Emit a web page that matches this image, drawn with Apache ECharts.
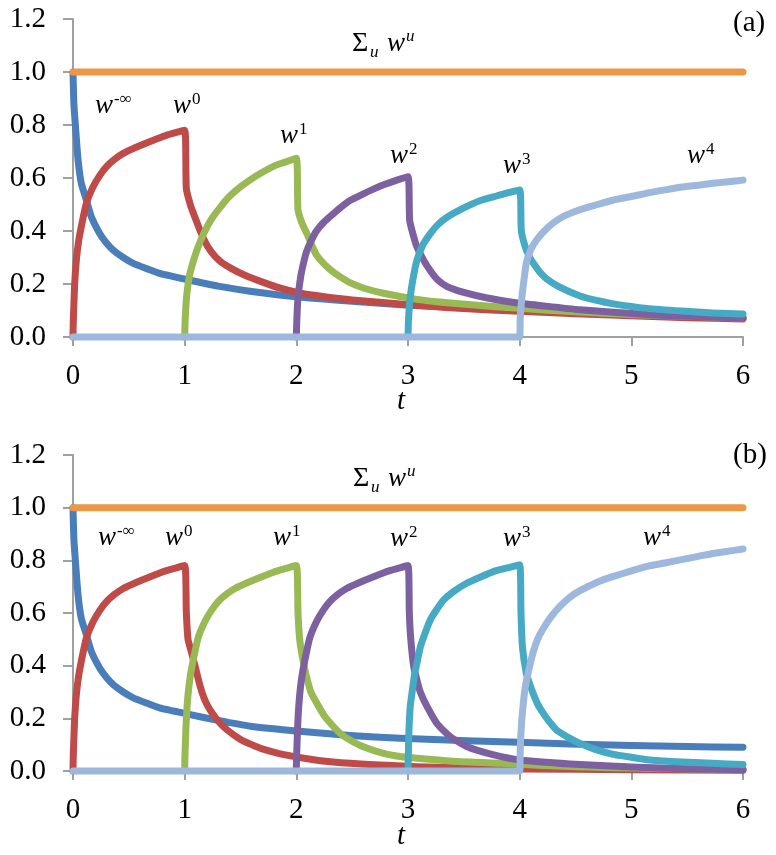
<!DOCTYPE html>
<html>
<head>
<meta charset="utf-8">
<script src="https://cdn.jsdelivr.net/npm/echarts@6/dist/echarts.min.js"></script>
<style>
html,body{margin:0;padding:0;background:#fff;}
#chart{width:776px;height:855px;}
</style>
</head>
<body>
<div id="chart"></div>
<script>
// ---------- DATA ----------
const xTickLabels = ['0','1','2','3','4','5','6'];
const yTickLabels = ['0.0','0.2','0.4','0.6','0.8','1.0','1.2'];

// Panel (a)
const a_wInf = [[0,1.0],[0.008,0.88],[0.023,0.79],[0.045,0.67],[0.074,0.58],[0.12,0.517],[0.164,0.454],[0.24,0.39],[0.3,0.355],[0.36,0.328],[0.45,0.3],[0.54,0.278],[0.66,0.258],[0.775,0.24],[0.9,0.228],[1.04,0.215],[1.3,0.192],[1.6,0.172],[2.0,0.152],[2.5,0.135],[3.0,0.12],[3.5,0.11],[4.0,0.1],[4.5,0.092],[5.0,0.085],[5.5,0.078],[6.0,0.072]];
const a_w0 = [[0,0],[0.002,0.05],[0.006,0.1],[0.015,0.2],[0.03,0.29],[0.05,0.36],[0.074,0.416],[0.12,0.505],[0.18,0.567],[0.24,0.61],[0.3,0.643],[0.37,0.67],[0.45,0.693],[0.56,0.715],[0.686,0.737],[0.83,0.76],[1.0,0.78],[1.015,0.56],[1.05,0.5],[1.09,0.454],[1.17,0.37],[1.24,0.32],[1.32,0.285],[1.42,0.258],[1.53,0.235],[1.68,0.21],[1.85,0.185],[2.04,0.165],[2.25,0.152],[2.5,0.14],[2.93,0.125],[3.38,0.11],[4.0,0.097],[4.5,0.088],[5.0,0.08],[5.5,0.073],[6.0,0.068]];
const a_w1 = [[1,0],[1.005,0.07],[1.02,0.165],[1.045,0.235],[1.08,0.29],[1.12,0.34],[1.17,0.39],[1.24,0.445],[1.32,0.49],[1.4,0.53],[1.5,0.567],[1.6,0.597],[1.68,0.618],[1.8,0.645],[1.9,0.66],[2.0,0.675],[2.015,0.48],[2.05,0.43],[2.095,0.39],[2.14,0.345],[2.18,0.31],[2.25,0.275],[2.33,0.245],[2.4,0.225],[2.48,0.205],[2.6,0.185],[2.78,0.165],[3.08,0.142],[3.38,0.128],[3.7,0.117],[4.0,0.108],[4.5,0.095],[5.0,0.085],[5.5,0.078],[6.0,0.072]];
const a_w2 = [[2,0],[2.005,0.07],[2.015,0.15],[2.04,0.23],[2.065,0.28],[2.09,0.32],[2.13,0.36],[2.18,0.4],[2.25,0.435],[2.33,0.465],[2.4,0.49],[2.48,0.515],[2.6,0.54],[2.7,0.56],[2.8,0.577],[2.9,0.592],[3.0,0.605],[3.015,0.44],[3.05,0.38],[3.08,0.34],[3.14,0.29],[3.2,0.25],[3.26,0.218],[3.35,0.19],[3.5,0.168],[3.7,0.148],[3.95,0.13],[4.2,0.118],[4.54,0.103],[5.14,0.085],[5.6,0.077],[6.0,0.072]];
const a_w3 = [[3,0],[3.005,0.07],[3.02,0.15],[3.045,0.22],[3.08,0.29],[3.13,0.345],[3.2,0.39],[3.27,0.425],[3.35,0.452],[3.5,0.487],[3.65,0.515],[3.8,0.533],[3.9,0.545],[4.0,0.555],[4.015,0.4],[4.05,0.34],[4.09,0.3],[4.12,0.28],[4.18,0.245],[4.24,0.22],[4.35,0.19],[4.54,0.155],[4.7,0.137],[4.84,0.125],[5.14,0.108],[5.45,0.098],[5.73,0.091],[6.0,0.087]];
const a_w4 = [[0,0],[4,0],[4.005,0.07],[4.02,0.15],[4.04,0.22],[4.06,0.28],[4.1,0.33],[4.15,0.365],[4.22,0.4],[4.3,0.43],[4.4,0.457],[4.54,0.48],[4.7,0.5],[4.84,0.517],[5.0,0.53],[5.14,0.543],[5.3,0.555],[5.44,0.565],[5.6,0.573],[5.73,0.58],[5.87,0.586],[6.0,0.592]];
const a_sum = [[0,1.0],[6,1.0]];

// Panel (b)
const b_wInf = [[0,1.0],[0.008,0.88],[0.023,0.79],[0.045,0.67],[0.074,0.58],[0.12,0.517],[0.164,0.454],[0.24,0.39],[0.3,0.355],[0.36,0.328],[0.45,0.3],[0.54,0.278],[0.66,0.258],[0.775,0.24],[0.9,0.228],[1.04,0.215],[1.3,0.192],[1.59,0.17],[2.0,0.152],[2.48,0.135],[2.93,0.124],[3.53,0.115],[4.45,0.103],[5.0,0.097],[5.5,0.093],[6.0,0.09]];
const b_w0 = [[0,0],[0.002,0.05],[0.006,0.1],[0.015,0.2],[0.03,0.29],[0.05,0.36],[0.074,0.416],[0.12,0.505],[0.18,0.567],[0.24,0.61],[0.3,0.643],[0.37,0.67],[0.45,0.693],[0.56,0.715],[0.686,0.737],[0.83,0.76],[1.0,0.78],[1.015,0.6],[1.03,0.5],[1.055,0.46],[1.08,0.42],[1.11,0.37],[1.14,0.32],[1.18,0.27],[1.23,0.23],[1.3,0.19],[1.38,0.156],[1.5,0.12],[1.6,0.1],[1.68,0.086],[1.89,0.062],[2.2,0.04],[2.48,0.029],[3.08,0.016],[4.0,0.008],[5.0,0.005],[6.0,0.003]];
const b_w1 = [[1,0],[1.002,0.05],[1.006,0.1],[1.015,0.2],[1.03,0.29],[1.05,0.36],[1.074,0.416],[1.12,0.505],[1.18,0.567],[1.24,0.61],[1.3,0.643],[1.37,0.67],[1.45,0.693],[1.56,0.715],[1.686,0.737],[1.83,0.76],[2.0,0.78],[2.015,0.6],[2.03,0.5],[2.06,0.42],[2.09,0.36],[2.13,0.3],[2.18,0.26],[2.25,0.21],[2.33,0.17],[2.4,0.14],[2.48,0.118],[2.6,0.092],[2.78,0.067],[2.93,0.055],[3.08,0.048],[3.4,0.037],[3.83,0.029],[4.5,0.016],[5.2,0.01],[6.0,0.006]];
const b_w2 = [[2,0],[2.002,0.05],[2.006,0.1],[2.015,0.2],[2.03,0.29],[2.05,0.36],[2.074,0.416],[2.12,0.505],[2.18,0.567],[2.24,0.61],[2.3,0.643],[2.37,0.67],[2.45,0.693],[2.56,0.715],[2.686,0.737],[2.83,0.76],[3.0,0.78],[3.012,0.6],[3.025,0.5],[3.05,0.4],[3.08,0.345],[3.11,0.3],[3.17,0.245],[3.26,0.18],[3.38,0.13],[3.53,0.092],[3.77,0.061],[4.0,0.042],[4.45,0.027],[5.0,0.015],[5.5,0.009],[6.0,0.005]];
const b_w3 = [[3,0],[3.005,0.1],[3.01,0.17],[3.02,0.245],[3.04,0.31],[3.06,0.37],[3.085,0.42],[3.11,0.47],[3.15,0.52],[3.2,0.574],[3.26,0.615],[3.32,0.65],[3.42,0.685],[3.53,0.714],[3.65,0.737],[3.77,0.758],[3.88,0.77],[4.0,0.783],[4.012,0.6],[4.025,0.47],[4.06,0.37],[4.09,0.33],[4.12,0.295],[4.16,0.255],[4.21,0.22],[4.27,0.185],[4.33,0.156],[4.45,0.124],[4.54,0.105],[4.69,0.08],[4.84,0.063],[5.0,0.052],[5.14,0.043],[5.4,0.035],[5.73,0.029],[6.0,0.025]];
const b_w4 = [[0,0],[4,0],[4.005,0.08],[4.015,0.17],[4.03,0.245],[4.05,0.32],[4.08,0.38],[4.12,0.45],[4.16,0.5],[4.21,0.54],[4.28,0.585],[4.36,0.625],[4.45,0.66],[4.54,0.685],[4.7,0.718],[4.84,0.739],[5.0,0.76],[5.14,0.777],[5.3,0.79],[5.44,0.802],[5.6,0.815],[5.73,0.826],[5.87,0.835],[6.0,0.843]];
const b_sum = [[0,1.0],[6,1.0]];

// ---------- STYLE ----------
const COLORS = {
  wInf: '#4A7EBB', w0: '#BE4B48', w1: '#98B954', w2: '#7D60A0',
  w3: '#46AAC5', w4: '#9DB8DC', sum: '#EC9647'
};
const SERIF = 'Liberation Serif';
const axisGray = '#A0A0A0';

function makeX(gi){
  return {
    gridIndex: gi, type: 'value', min: 0, max: 6, interval: 1,
    axisLine: {show: true, onZero: false, lineStyle: {color: axisGray, width: 2}},
    axisTick: {show: true, inside: false, length: 9, lineStyle: {color: axisGray, width: 2}},
    splitLine: {show: false},
    axisLabel: {margin: 25, color: '#000', fontFamily: SERIF, fontSize: 29,
      formatter: v => xTickLabels[Math.round(v)]}
  };
}
function makeY(gi){
  return {
    gridIndex: gi, type: 'value', min: 0, max: 1.2, interval: 0.2,
    axisLine: {show: true, lineStyle: {color: axisGray, width: 2}},
    axisTick: {show: true, inside: false, length: 10, lineStyle: {color: axisGray, width: 2}},
    splitLine: {show: false},
    axisLabel: {margin: 27, color: '#000', fontFamily: SERIF, fontSize: 29, padding: [11,0,0,0],
      formatter: v => yTickLabels[Math.round(v/0.2)]}
  };
}
function line(gi, data, color){
  return {
    type: 'line', xAxisIndex: gi, yAxisIndex: gi, data: data,
    showSymbol: false, symbol: 'none', smooth: 0.2, clip: false,
    lineStyle: {color: color, width: 7, cap: 'round', join: 'round'},
    emphasis: {disabled: true}, silent: true
  };
}

// ---------- TEXT ANNOTATIONS ----------
const graphics = [];
function txt(x, baseline, s, size, italic){
  graphics.push({
    type: 'text', x: x, y: baseline - 0.34*size, silent: true,
    style: {text: s, fill: '#000', align: 'left', verticalAlign: 'middle',
      fontFamily: SERIF, fontSize: size, fontStyle: italic ? 'italic' : 'normal'}
  });
}
function wlabel(x, baseline, sup){
  txt(x, baseline, 'w', 27, true);
  txt(x + 19, baseline - 10, sup, 17, false);
}
function sumlabel(x, baseline){
  txt(x, baseline, 'Σ', 28, false);
  txt(x + 18, baseline + 5, 'u', 17, true);
  txt(x + 35, baseline, 'w', 27, true);
  txt(x + 54, baseline - 11, 'u', 17, true);
}
// panel (a)
txt(733, 33, '(a)', 29, false);
sumlabel(352, 53);
wlabel(95, 115, '-∞');
wlabel(173, 115, '0');
wlabel(280, 145, '1');
wlabel(390, 165, '2');
wlabel(503, 175, '3');
wlabel(687, 165, '4');
txt(397, 411, 't', 29, true);
// panel (b)
txt(733, 465, '(b)', 29, false);
sumlabel(353, 488);
wlabel(98, 547, '-∞');
wlabel(165, 547, '0');
wlabel(273, 547, '1');
wlabel(390, 548, '2');
wlabel(503, 548, '3');
wlabel(643, 547, '4');
txt(397, 846, 't', 29, true);

const chart = echarts.init(document.getElementById('chart'), null, {renderer: 'canvas'});
chart.setOption({
  animation: false,
  backgroundColor: '#fff',
  textStyle: {fontFamily: SERIF},
  grid: [
    {left: 73, right: 33, top: 19, height: 318, containLabel: false},
    {left: 73, right: 33, top: 455, height: 316, containLabel: false}
  ],
  xAxis: [makeX(0), makeX(1)],
  yAxis: [makeY(0), makeY(1)],
  series: [
    line(0, a_wInf, COLORS.wInf), line(0, a_w0, COLORS.w0), line(0, a_w1, COLORS.w1),
    line(0, a_w2, COLORS.w2), line(0, a_w3, COLORS.w3), line(0, a_w4, COLORS.w4),
    line(0, a_sum, COLORS.sum),
    line(1, b_wInf, COLORS.wInf), line(1, b_w0, COLORS.w0), line(1, b_w1, COLORS.w1),
    line(1, b_w2, COLORS.w2), line(1, b_w3, COLORS.w3), line(1, b_w4, COLORS.w4),
    line(1, b_sum, COLORS.sum)
  ],
  graphic: graphics
});
</script>
</body>
</html>
